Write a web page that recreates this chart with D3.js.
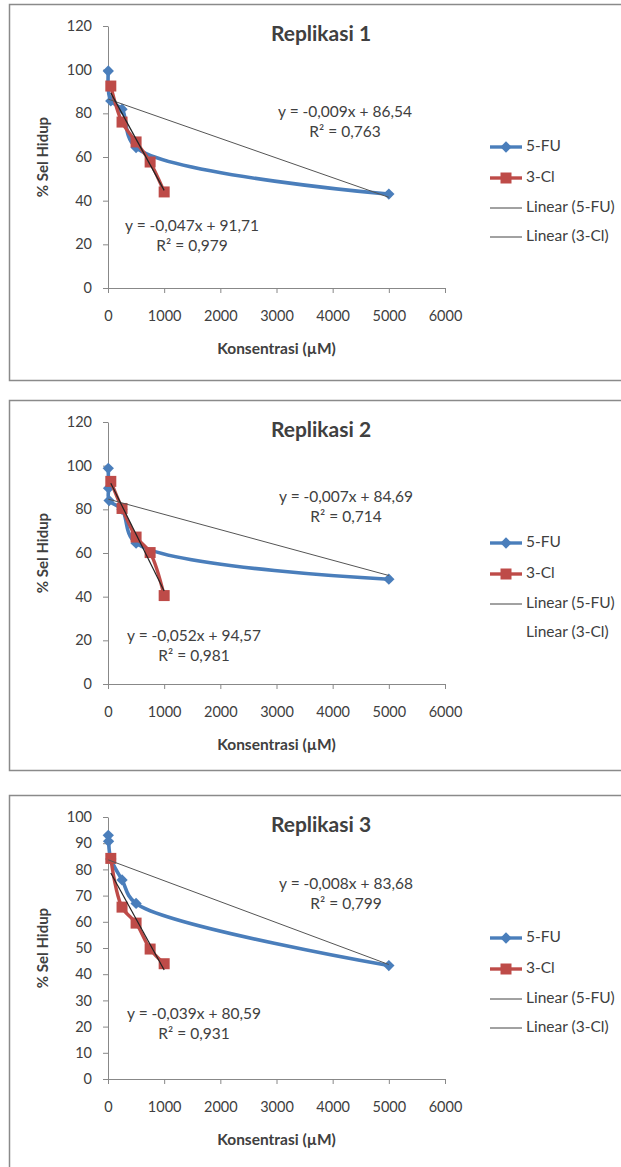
<!DOCTYPE html>
<html>
<head>
<meta charset="utf-8">
<script src="https://cdn.jsdelivr.net/npm/d3@7"></script>
<style>
  body { margin: 0; background: #fff; }
  text { font-family: Lato, "Open Sans", sans-serif; fill: #404040; }
</style>
</head>
<body>
<div id="chart"></div>
<script>
// data
const titles = ["Replikasi 1", "Replikasi 2", "Replikasi 3"];
const xTicks = [0, 1000, 2000, 3000, 4000, 5000, 6000];
const yMax = [120, 120, 100];
const yStep = [20, 20, 10];

const fuConc = [
  [5, 50, 250, 500, 5000],
  [5, 10, 20, 250, 500, 5000],
  [5, 10, 50, 250, 500, 5000]
];
const fuViab = [
  [99.4, 85.7, 81.9, 64.3, 43],
  [98.8, 89.7, 84, 80, 64.5, 48],
  [93, 90.7, 84, 76, 67, 43.3]
];
const clConc = [50, 250, 500, 750, 1000];
const clViab = [
  [92.5, 76, 66.9, 57.7, 44],
  [92.8, 80.4, 67.3, 60.2, 40.5],
  [84.2, 65.6, 59.5, 49.6, 44]
];

const fuSlope = [-0.009, -0.007, -0.008];
const fuIntercept = [86.54, 84.69, 83.68];
const fuR2 = ["0,763", "0,714", "0,799"];
const clSlope = [-0.047, -0.052, -0.039];
const clIntercept = [91.71, 94.57, 80.59];
const clR2 = ["0,979", "0,981", "0,931"];

const seriesNames = ["5-FU", "3-Cl", "Linear (5-FU)", "Linear (3-Cl)"];

// layout
const W = 621, H = 1167;
const panelTop = [4, 400, 795];
const panelH = [376, 370, 420];
const plot = { left: 108, right: 445, top: 22, bottom: 284 };
const fuEqPos = [[345, 109], [346, 98], [346, 90]];
const clEqPos = [[192, 223], [194, 237], [194, 220]];
const legendRows = [143, 174, 204, 233];
const legendTrend3 = [true, false, true];

const blue = "#4a7ebb", red = "#be4b48";

const svg = d3.select("#chart").append("svg")
  .attr("width", W)
  .attr("height", H);

const fmt = (v, d) => v.toFixed(d).replace(".", ",");
const eqText = (m, b) => `y = ${m < 0 ? "-" : ""}${fmt(Math.abs(m), 3)}x + ${fmt(b, 2)}`;

const diamond = d3.symbol().type(d3.symbolSquare).size(64);
const square = d3.symbol().type(d3.symbolSquare).size(121);

titles.forEach((title, p) => {
  const g = svg.append("g").attr("transform", `translate(0,${panelTop[p]})`);

  g.append("rect")
    .attr("x", 9.5).attr("y", 0.5)
    .attr("width", 700).attr("height", panelH[p])
    .attr("fill", "none")
    .attr("stroke", "#8a8a8a")
    .attr("stroke-width", 1.5);

  const x = d3.scaleLinear().domain([0, 6000]).range([plot.left, plot.right]);
  const y = d3.scaleLinear().domain([0, yMax[p]]).range([plot.bottom, plot.top]);

  const yAxis = g.append("g")
    .attr("transform", `translate(${plot.left},0)`)
    .call(d3.axisLeft(y).tickValues(d3.range(0, yMax[p] + 1, yStep[p]))
      .tickSize(5).tickSizeOuter(0).tickPadding(11));
  const xAxis = g.append("g")
    .attr("transform", `translate(0,${plot.bottom})`)
    .call(d3.axisBottom(x).tickValues(xTicks).tickFormat(d3.format("d"))
      .tickSize(5).tickSizeOuter(0).tickPadding(18));

  [yAxis, xAxis].forEach(a => {
    a.selectAll("path, line").attr("stroke", "#888");
    a.selectAll("text").attr("font-size", 14.5).attr("fill", "#404040")
      .style("font-family", "Lato, 'Open Sans', sans-serif");
  });

  g.append("text")
    .attr("x", 321).attr("y", 32)
    .attr("text-anchor", "middle")
    .attr("dominant-baseline", "middle")
    .attr("font-size", 21).attr("font-weight", "bold")
    .attr("fill", "#262626")
    .text(title);

  g.append("text")
    .attr("x", (plot.left + plot.right) / 2).attr("y", 346)
    .attr("text-anchor", "middle")
    .attr("dominant-baseline", "middle")
    .attr("font-size", 15.5).attr("font-weight", "bold")
    .text("Konsentrasi (µM)");

  g.append("text")
    .attr("transform", `translate(44,${(plot.top + plot.bottom) / 2}) rotate(-90)`)
    .attr("text-anchor", "middle")
    .attr("dominant-baseline", "middle")
    .attr("font-size", 15).attr("font-weight", "bold")
    .text("% Sel Hidup");

  const line = d3.line()
    .x(d => x(d[0]))
    .y(d => y(d[1]))
    .curve(d3.curveCatmullRom.alpha(0.5));

  const fuData = fuConc[p].map((c, i) => [c, fuViab[p][i]]);
  const clData = clConc.map((c, i) => [c, clViab[p][i]]);

  // 5-FU series
  g.append("path")
    .datum(fuData)
    .attr("fill", "none")
    .attr("stroke", blue)
    .attr("stroke-width", 3.6)
    .attr("d", line);
  g.selectAll(".fu").data(fuData).enter().append("path")
    .attr("transform", d => `translate(${x(d[0])},${y(d[1])}) rotate(45)`)
    .attr("d", diamond)
    .attr("fill", blue);

  // 3-Cl series
  g.append("path")
    .datum(clData)
    .attr("fill", "none")
    .attr("stroke", red)
    .attr("stroke-width", 3.4)
    .attr("d", line);
  g.selectAll(".cl").data(clData).enter().append("path")
    .attr("transform", d => `translate(${x(d[0])},${y(d[1])})`)
    .attr("d", square)
    .attr("fill", red);

  // trendlines from the fitted equations
  const fuX = d3.extent(fuConc[p]);
  g.append("line")
    .attr("x1", x(fuX[0])).attr("y1", y(fuSlope[p] * fuX[0] + fuIntercept[p]))
    .attr("x2", x(fuX[1])).attr("y2", y(fuSlope[p] * fuX[1] + fuIntercept[p]))
    .attr("stroke", "#555").attr("stroke-width", 1);
  const clX = d3.extent(clConc);
  g.append("line")
    .attr("x1", x(clX[0])).attr("y1", y(clSlope[p] * clX[0] + clIntercept[p]))
    .attr("x2", x(clX[1])).attr("y2", y(clSlope[p] * clX[1] + clIntercept[p]))
    .attr("stroke", "#222").attr("stroke-width", 1.2);

  // equation labels
  [[fuEqPos[p], eqText(fuSlope[p], fuIntercept[p]), fuR2[p]],
   [clEqPos[p], eqText(clSlope[p], clIntercept[p]), clR2[p]]].forEach(([pos, eq, r2]) => {
    g.append("text")
      .attr("x", pos[0]).attr("y", pos[1])
      .attr("text-anchor", "middle").attr("dominant-baseline", "middle")
      .attr("font-size", 15.5)
      .text(eq);
    g.append("text")
      .attr("x", pos[0]).attr("y", pos[1] + 20)
      .attr("text-anchor", "middle").attr("dominant-baseline", "middle")
      .attr("font-size", 15.5)
      .text(`R² = ${r2}`);
  });

  // legend
  const legend = g.append("g").attr("transform", "translate(490,0)");
  seriesNames.forEach((name, i) => {
    const ly = legendRows[i];
    if (i < 2) {
      legend.append("line")
        .attr("x1", 0).attr("x2", 32).attr("y1", ly).attr("y2", ly)
        .attr("stroke", i === 0 ? blue : red).attr("stroke-width", 3.4);
      legend.append("path")
        .attr("transform", `translate(16,${ly})` + (i === 0 ? " rotate(45)" : ""))
        .attr("d", i === 0 ? diamond : square)
        .attr("fill", i === 0 ? blue : red);
    } else if (i === 2 || legendTrend3[p]) {
      legend.append("line")
        .attr("x1", 0).attr("x2", 32).attr("y1", ly).attr("y2", ly)
        .attr("stroke", "#444").attr("stroke-width", 1);
    }
    legend.append("text")
      .attr("x", 36).attr("y", ly)
      .attr("dominant-baseline", "middle")
      .attr("font-size", 15.5)
      .text(name);
  });
});
</script>
</body>
</html>
